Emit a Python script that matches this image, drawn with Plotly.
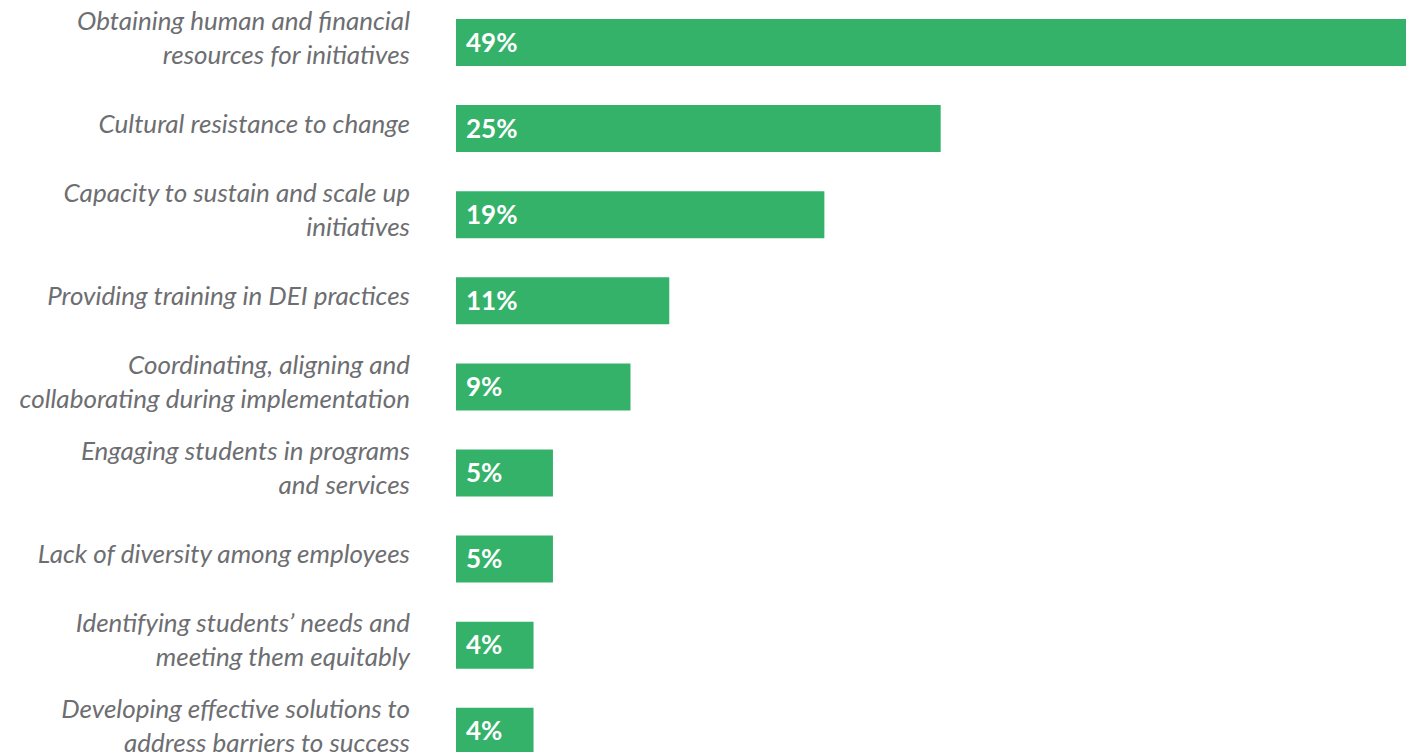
import plotly.graph_objects as go

# Barriers to DEI work, share of respondents (%)
categories = [
    "Obtaining human and financial<br>resources for initiatives",
    "Cultural resistance to change",
    "Capacity to sustain and scale up<br>initiatives",
    "Providing training in DEI practices",
    "Coordinating, aligning and<br>collaborating during implementation",
    "Engaging students in programs<br>and services",
    "Lack of diversity among employees",
    "Identifying students’ needs and<br>meeting them equitably",
    "Developing effective solutions to<br>address barriers to success",
]
values = [49, 25, 19, 11, 9, 5, 5, 4, 4]
value_labels = [f"{v}%" for v in values]

GREEN = "#34b26a"
GREY = "#6d6e71"

fig = go.Figure()
fig.add_trace(go.Bar(
    x=values,
    y=categories,
    orientation="h",
    marker=dict(color=GREEN, line=dict(width=0)),
    hoverinfo="skip",
))

# value labels inside the bars, near the left edge
for cat, lab in zip(categories, value_labels):
    fig.add_annotation(
        x=0, y=cat, text=f"<b>{lab}</b>", showarrow=False,
        xanchor="left", xshift=8, yshift=1,
        font=dict(family="Lato", size=26, color="white"),
    )

fig.update_layout(
    width=1406, height=752,
    margin=dict(l=456, r=0, t=0, b=0, autoexpand=False),
    paper_bgcolor="white", plot_bgcolor="white",
    bargap=0.454,
    showlegend=False,
    xaxis=dict(range=[0, 49], visible=False, fixedrange=True, automargin=False),
    yaxis=dict(
        type="category",
        range=[8.241, -0.494],
        automargin=False,
        showgrid=False, zeroline=False, showline=False,
        ticks="", ticklabelstandoff=45, ticklabelshift=5,
        tickfont=dict(family="Lato", size=26, color=GREY, style="italic"),
        fixedrange=True,
    ),
)

fig.write_html("out.html")
